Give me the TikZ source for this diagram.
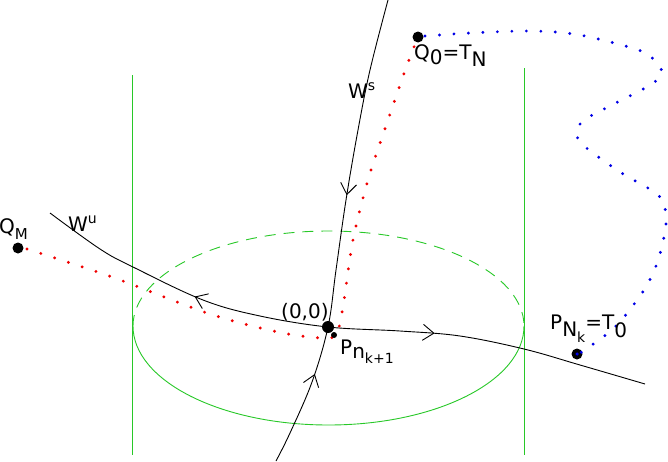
\documentclass[tikz,border=0pt]{standalone}
\usepackage{fontspec}
\setmainfont{DejaVu Sans}
\usetikzlibrary{decorations.markings,arrows.meta}
\definecolor{cgreen}{RGB}{40,200,40}
\definecolor{cred}{RGB}{240,0,0}
\definecolor{cblue}{RGB}{0,0,230}
\newcommand{\lowr}[2]{\raisebox{-#1}{#2}}
\tikzset{
  curve/.style={black, line width=0.9pt},
  cyl/.style={cgreen, line width=0.9pt},
  reddots/.style={cred, line width=3.2pt, line cap=round, dash pattern=on 0pt off 14.5pt},
  bluedots/.style={cblue, line width=3.2pt, line cap=round, dash pattern=on 0pt off 14.5pt},
  pt/.style={circle, fill=black, inner sep=0pt, minimum size=#1},
  lab/.style={anchor=base west, inner sep=0pt, font=\fontsize{20}{22}\selectfont},
  barb/.style={postaction={decorate}, decoration={markings, mark=at position #1 with {\arrow{Straight Barb[length=11pt,width=16pt,line width=0.9pt]}}}},
  rbarb/.style={postaction={decorate}, decoration={markings, mark=at position #1 with {\arrowreversed{Straight Barb[length=11pt,width=16pt,line width=0.9pt]}}}}
}
\begin{document}
\begin{tikzpicture}[x=1pt,y=-1pt]
\useasboundingbox (0,0) rectangle (668,461);
% cylinder
\draw[cyl] (132,75) -- (132,455);
\draw[cyl] (524,68) -- (524,455);
\coordinate (ec) at (328.5,326);
\draw[cyl, dash pattern=on 11pt off 8pt] (ec) ++(-195.5,0) arc[start angle=180, end angle=360, x radius=195.5, y radius=95];
\draw[cyl] (ec) ++(-195.5,0) arc[start angle=180, end angle=0, x radius=195.5, y radius=99];
% points
\coordinate (O) at (328,327);
\coordinate (wsA) at (276,461);
\coordinate (wsB) at (388,0);
\coordinate (wuA) at (50,213);
\coordinate (wuB) at (645,384);
% stable manifold
\draw[curve, barb=0.2] plot[smooth, tension=0.6] coordinates {(wsA) (290,433) (312,382) (328,327) (336,270) (346,200) (358,130) (370,70) (wsB)};
\draw[curve, barb=0.6, draw=none] plot[smooth, tension=0.6] coordinates {(wsB) (370,70) (358,130) (346,200) (336,270) (328,327)};
% unstable manifold
\draw[curve] plot[smooth, tension=0.6] coordinates {(wuA) (100,249) (133,267) (203,300) (260,316) (O) (400,331) (460,336) (524,349) (580,365) (wuB)};
\draw[curve, rbarb=0.55, draw=none] plot[smooth, tension=0.6] coordinates {(wuA) (100,249) (133,267) (203,300) (260,316) (O)};
\draw[curve, barb=0.33, draw=none] plot[smooth, tension=0.6] coordinates {(O) (400,331) (460,336) (524,349) (580,365) (wuB)};
% dotted orbits
\node[pt=11pt] (QM) at (18,248) {};
\node[pt=11pt] (Q0) at (418,37) {};
\node[pt=11pt] (PN) at (577,354) {};
\draw[reddots] plot[smooth, tension=0.55] coordinates {(27,249) (112,277) (210,314) (283,333) (328,338) (338,330) (344,300) (353,240) (368,180) (388,120) (406,68) (416,42)};
\draw[bluedots] plot[smooth, tension=0.55] coordinates {(425,36) (470,33) (530,31) (574,34) (618,44) (647,54) (662,72) (650,85) (610,106) (584,120) (577,132) (583,145) (620,172) (658,195) (666,215) (664,237) (656,266) (642,293) (614,328) (580,353)};
\node[circle, fill=cblue, inner sep=0pt, minimum size=3.5pt] at (PN) {};
\node[pt=12pt] (Od) at (O) {};
\node[pt=6pt] (Pn) at (334,335) {};
% labels
\node[lab] (lQ0) at (414,59) {Q\lowr{5pt}{0}=T\lowr{7pt}{N}};
\node[lab] (lWs) at (348,98) {W\raisebox{8pt}{\fontsize{14}{15}\selectfont s}};
\node[lab] (lQM) at (-1,233) {Q\lowr{6pt}{\fontsize{15}{16}\selectfont M}};
\node[lab] (lWu) at (68,231) {W\raisebox{8pt}{\fontsize{14}{15}\selectfont u}};
\node[lab] (l00) at (281,318) {(0,0)};
\node[lab] (lPn) at (340,354) {P\lowr{4pt}{n\lowr{5pt}{\fontsize{14}{15}\selectfont k+1}}};
\node[lab] (lPN) at (550,329) {P\lowr{7pt}{N\lowr{6pt}{\fontsize{14}{15}\selectfont k}}=T\lowr{8pt}{0}};
\end{tikzpicture}
\end{document}
